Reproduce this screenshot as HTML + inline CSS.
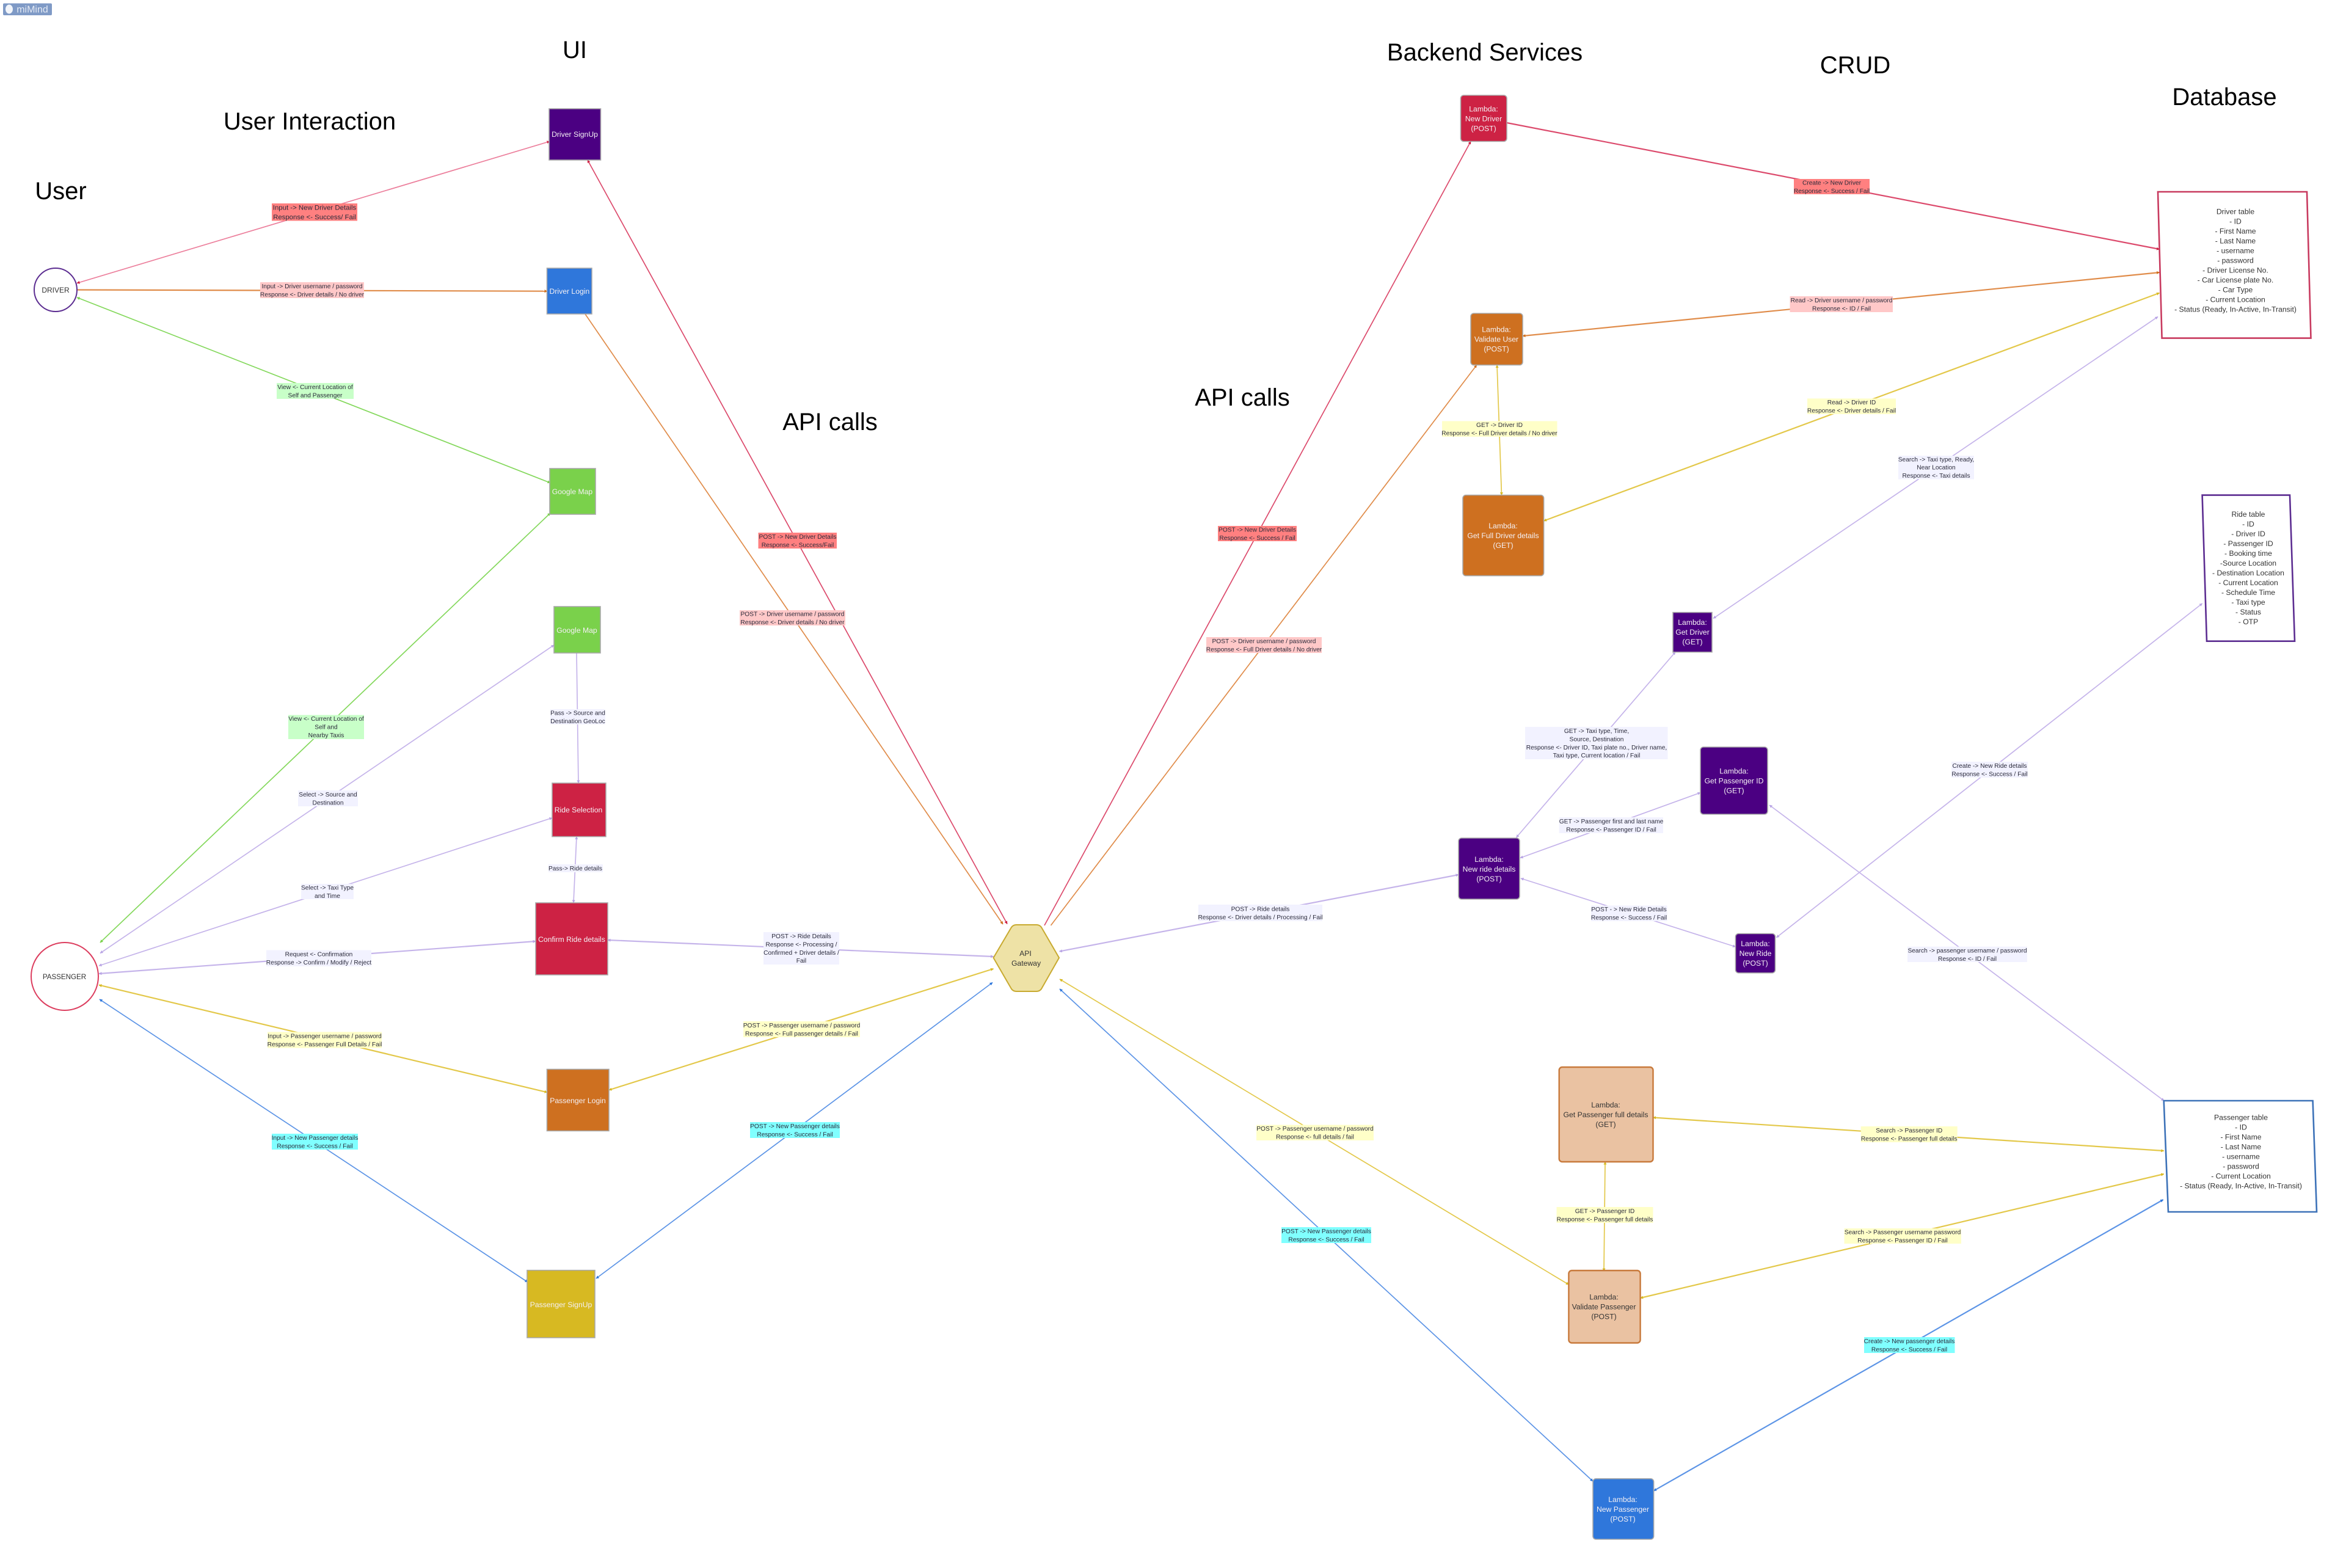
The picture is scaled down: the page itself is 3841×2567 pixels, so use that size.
<!DOCTYPE html>
<html lang="en">
<head>
<meta charset="utf-8">
<title>Taxi service architecture mind map</title>
<style>
html,body{margin:0;padding:0;background:#fff;}
svg{display:block;}
text{font-family:"Liberation Sans",sans-serif;text-anchor:middle;}
.title{font-size:40px;fill:#000;}
.lb{font-size:10.2px;fill:#2a2a3a;}
.n{font-size:12.2px;fill:#f4f0f4;}
.d{font-size:12.2px;fill:#333;}
.e{fill:none;stroke-width:1.7;}
.r{stroke:#dc4a6c;marker-start:url(#mr);marker-end:url(#mr);}
.rp{stroke:#ec7f9c;marker-start:url(#mr);marker-end:url(#mr);}
.o{stroke:#e08c4a;marker-start:url(#mo);marker-end:url(#mo);}
.y{stroke:#e3c84a;marker-start:url(#my);marker-end:url(#my);}
.p{stroke:#c5b4ea;marker-start:url(#mp);marker-end:url(#mp);}
.b{stroke:#5c94e6;marker-start:url(#mb);marker-end:url(#mb);}
.g{stroke:#84d85c;marker-start:url(#mg);marker-end:url(#mg);}
.e.ns{marker-start:none;}
.box{stroke:#a8a8a8;stroke-width:1.6;}
.lr{fill:#ff8080;}.lp{fill:#ffc8c8;}.lg{fill:#c8ffc8;}.lv{fill:#f2f2ff;}.ly{fill:#ffffc8;}.lc{fill:#80ffff;}
.tbl{fill:#fff;stroke-width:2.6;}
</style>
</head>
<body>
<svg xmlns="http://www.w3.org/2000/svg" width="3841" height="2567" viewBox="0 0 3841 2567">
<defs>
<marker id="mr" viewBox="0 0 10 10" refX="9" refY="5" markerWidth="5" markerHeight="5" markerUnits="userSpaceOnUse" orient="auto-start-reverse"><path d="M0 0L10 5L0 10z" fill="#cd2244"/></marker>
<marker id="mo" viewBox="0 0 10 10" refX="9" refY="5" markerWidth="5" markerHeight="5" markerUnits="userSpaceOnUse" orient="auto-start-reverse"><path d="M0 0L10 5L0 10z" fill="#ce7020"/></marker>
<marker id="my" viewBox="0 0 10 10" refX="9" refY="5" markerWidth="5" markerHeight="5" markerUnits="userSpaceOnUse" orient="auto-start-reverse"><path d="M0 0L10 5L0 10z" fill="#d7b922"/></marker>
<marker id="mp" viewBox="0 0 10 10" refX="9" refY="5" markerWidth="5" markerHeight="5" markerUnits="userSpaceOnUse" orient="auto-start-reverse"><path d="M0 0L10 5L0 10z" fill="#b8a4e4"/></marker>
<marker id="mb" viewBox="0 0 10 10" refX="9" refY="5" markerWidth="5" markerHeight="5" markerUnits="userSpaceOnUse" orient="auto-start-reverse"><path d="M0 0L10 5L0 10z" fill="#2f77db"/></marker>
<marker id="mg" viewBox="0 0 10 10" refX="9" refY="5" markerWidth="5" markerHeight="5" markerUnits="userSpaceOnUse" orient="auto-start-reverse"><path d="M0 0L10 5L0 10z" fill="#7ad14b"/></marker>
</defs>

<rect x="0" y="0" width="3841" height="2567" fill="#fff"/>

<g>
<rect x="5" y="5.5" width="80" height="19.5" rx="2" fill="#7f9ac6"/>
<ellipse cx="15" cy="15" rx="6" ry="7.5" fill="#f2f5fa"/>
<text x="53" y="20.5" style="font-size:16px;fill:#e3e9f4">miMind</text>
</g>

<text class="title" x="99.5" y="326">User</text>
<text class="title" x="507" y="212">User Interaction</text>
<text class="title" x="941" y="95">UI</text>
<text class="title" x="1359" y="704">API calls</text>
<text class="title" x="2034" y="664">API calls</text>
<text class="title" x="2431" y="99">Backend Services</text>
<text class="title" x="3037.5" y="120">CRUD</text>
<text class="title" x="3642" y="172">Database</text>

<!-- edges -->
<line class="e rp" x1="126" y1="463.5" x2="900" y2="231.5"/>
<line class="e o ns" style="stroke-width:2.2" x1="126" y1="474.5" x2="896" y2="476.7"/>
<line class="e g" x1="126" y1="487" x2="901" y2="790.5"/>
<line class="e g" x1="901" y1="840" x2="164" y2="1543"/>
<line class="e p" x1="907" y1="1056" x2="164" y2="1560.5"/>
<line class="e p ns" x1="944" y1="1069" x2="947" y2="1282"/>
<line class="e p" x1="904" y1="1339" x2="162" y2="1581"/>
<line class="e p" x1="944" y1="1369.6" x2="939" y2="1478"/>
<line class="e p" style="stroke-width:2.2" x1="877" y1="1541" x2="162" y2="1594"/>
<line class="e p" style="stroke-width:2.2" x1="995" y1="1539" x2="1626.5" y2="1566"/>
<line class="e y" style="stroke-width:2.2" x1="162" y1="1612.6" x2="896" y2="1788.3"/>
<line class="e b" x1="163" y1="1636" x2="864" y2="2099"/>
<line class="e y" style="stroke-width:2.2" x1="997" y1="1784.5" x2="1626.5" y2="1586"/>
<line class="e b" x1="976" y1="2093" x2="1625" y2="1608.5"/>
<line class="e r" x1="962" y1="262" x2="1649" y2="1512.5"/>
<line class="e o ns" x1="958" y1="514" x2="1642" y2="1513"/>
<line class="e r ns" x1="1710" y1="1515" x2="2408" y2="231.5"/>
<line class="e o ns" x1="1720.5" y1="1515" x2="2417.7" y2="597.6"/>
<line class="e p" style="stroke-width:2.2" x1="1734.5" y1="1557.6" x2="2388" y2="1432"/>
<line class="e y" x1="1735" y1="1603" x2="2568.4" y2="2103"/>
<line class="e b" x1="1735" y1="1619" x2="2608" y2="2425"/>
<line class="e r ns" style="stroke-width:2.2" x1="2467" y1="201" x2="3535.5" y2="408"/>
<line class="e o" style="stroke-width:2.2" x1="2493" y1="550" x2="3535.5" y2="446"/>
<line class="e y" style="stroke-width:2.2" x1="2527.6" y1="852.7" x2="3535.5" y2="479.6"/>
<line class="e y" x1="2451" y1="597.6" x2="2458.5" y2="810.6"/>
<line class="e p" x1="2805" y1="1012.4" x2="3533" y2="518.5"/>
<line class="e p" x1="2482.6" y1="1371" x2="2743" y2="1067.5"/>
<line class="e p" x1="2489" y1="1404.5" x2="2784" y2="1297.7"/>
<line class="e p" x1="2490" y1="1438" x2="2841.5" y2="1550"/>
<line class="e p" x1="2908.5" y1="1534.8" x2="3605.6" y2="988"/>
<line class="e p" x1="2897" y1="1318" x2="3543" y2="1802"/>
<line class="e y" style="stroke-width:2.2" x1="2706.5" y1="1829.5" x2="3542.7" y2="1884"/>
<line class="e y" x1="2628" y1="1902" x2="2626" y2="2081"/>
<line class="e y" style="stroke-width:2.2" x1="2685.6" y1="2125" x2="3542.7" y2="1922"/>
<line class="e b" style="stroke-width:2.2" x1="2707.6" y1="2440.6" x2="3541.7" y2="1964"/>

<!-- edge labels -->
<g><rect class="lr" x="445" y="333" width="140" height="28.5"/><text class="lb" style="font-size:11.4px" x="515" y="343.5">Input -&gt; New Driver Details<tspan x="515" dy="15.4">Response &lt;- Success/ Fail</tspan></text></g>
<g><rect class="lp" x="426" y="462" width="170" height="26"/><text class="lb" x="511" y="471.9">Input -&gt; Driver username / password<tspan x="511" dy="13.4">Response &lt;- Driver details / No driver</tspan></text></g>
<g><rect class="lg" x="453" y="627" width="126" height="26"/><text class="lb" x="516" y="636.9">View &lt;- Current Location of<tspan x="516" dy="13.4">Self and Passenger</tspan></text></g>
<g><rect class="lg" x="472" y="1170.5" width="124" height="39.5"/><text class="lb" x="534" y="1180.2">View &lt;- Current Location of<tspan x="534" dy="13.4">Self and</tspan><tspan x="534" dy="13.4">Nearby Taxis</tspan></text></g>
<g><rect class="lv" x="488" y="1294" width="98" height="26"/><text class="lb" x="537" y="1303.9">Select -&gt; Source and<tspan x="537" dy="13.4">Destination</tspan></text></g>
<g><rect class="lv" x="901" y="1161" width="90" height="25"/><text class="lb" x="946" y="1170.4">Pass -&gt; Source and<tspan x="946" dy="13.4">Destination GeoLoc</tspan></text></g>
<g><rect class="lv" x="493" y="1447" width="86" height="25"/><text class="lb" x="536" y="1456.4">Select -&gt; Taxi Type<tspan x="536" dy="13.4">and Time</tspan></text></g>
<g><rect class="lv" x="898" y="1415" width="89" height="13"/><text class="lb" x="942" y="1425">Pass-&gt; Ride details</text></g>
<g><rect class="lv" x="436" y="1555.5" width="172" height="26.5"/><text class="lb" x="522" y="1565.6">Request &lt;- Confirmation<tspan x="522" dy="13.4">Response -&gt; Confirm / Modify / Reject</tspan></text></g>
<g><rect class="ly" x="438" y="1689.4" width="187" height="26.3"/><text class="lb" x="531.5" y="1699.4">Input -&gt; Passenger username / password<tspan x="531.5" dy="13.4">Response &lt;- Passenger Full Details / Fail</tspan></text></g>
<g><rect class="lc" x="445" y="1856" width="141" height="26"/><text class="lb" x="515.5" y="1865.9">Input -&gt; New Passenger details<tspan x="515.5" dy="13.4">Response &lt;- Success / Fail</tspan></text></g>
<g><rect class="lr" x="1241.5" y="872" width="128.5" height="26"/><text class="lb" x="1306" y="881.9">POST -&gt; New Driver Details<tspan x="1306" dy="13.4">Response &lt;- Success/Fail</tspan></text></g>
<g><rect class="lp" x="1211" y="999" width="173" height="25"/><text class="lb" x="1297.5" y="1008.4">POST -&gt; Driver username / password<tspan x="1297.5" dy="13.4">Response &lt;- Driver details / No driver</tspan></text></g>
<g><rect class="lv" x="1250" y="1526" width="124" height="53"/><text class="lb" x="1312" y="1536">POST -&gt; Ride Details<tspan x="1312" dy="13.4">Response &lt;- Processing /</tspan><tspan x="1312" dy="13.4">Confirmed + Driver details /</tspan><tspan x="1312" dy="13.4">Fail</tspan></text></g>
<g><rect class="ly" x="1217" y="1672" width="191" height="26"/><text class="lb" x="1312.5" y="1681.9">POST -&gt; Passenger username / password<tspan x="1312.5" dy="13.4">Response &lt;- Full passenger details / Fail</tspan></text></g>
<g><rect class="lc" x="1228" y="1837" width="147" height="26"/><text class="lb" x="1301.5" y="1846.9">POST -&gt; New Passenger details<tspan x="1301.5" dy="13.4">Response &lt;- Success / Fail</tspan></text></g>
<g><rect class="lr" x="1994" y="861" width="129" height="25"/><text class="lb" x="2058.5" y="870.4">POST -&gt; New Driver Details<tspan x="2058.5" dy="13.4">Response &lt;- Success / Fail</tspan></text></g>
<g><rect class="lp" x="1975" y="1043" width="189" height="26"/><text class="lb" x="2069.5" y="1052.9">POST -&gt; Driver username / password<tspan x="2069.5" dy="13.4">Response &lt;- Full Driver details / No driver</tspan></text></g>
<g><rect class="lv" x="1962" y="1481" width="203" height="27"/><text class="lb" x="2063.5" y="1491.4">POST -&gt; Ride details<tspan x="2063.5" dy="13.4">Response &lt;- Driver details / Processing / Fail</tspan></text></g>
<g><rect class="ly" x="2057" y="1841.5" width="192" height="25.5"/><text class="lb" x="2153" y="1851">POST -&gt; Passenger username / password<tspan x="2153" dy="13.4">Response &lt;- full details / fail</tspan></text></g>
<g><rect class="lc" x="2098" y="2009" width="147" height="26"/><text class="lb" x="2171.5" y="2019">POST -&gt; New Passenger details<tspan x="2171.5" dy="13.4">Response &lt;- Success / Fail</tspan></text></g>
<g><rect class="lr" x="2937" y="293" width="124" height="25"/><text class="lb" x="2999" y="302.4">Create -&gt; New Driver<tspan x="2999" dy="13.4">Response &lt;- Success / Fail</tspan></text></g>
<g><rect class="lp" x="2930.5" y="485" width="168.5" height="26"/><text class="lb" x="3015" y="495">Read -&gt; Driver username / password<tspan x="3015" dy="13.4">Response &lt;- ID / Fail</tspan></text></g>
<g><rect class="ly" x="2959" y="652.4" width="145" height="25.6"/><text class="lb" x="3031.5" y="662">Read -&gt; Driver ID<tspan x="3031.5" dy="13.4">Response &lt;- Driver details / Fail</tspan></text></g>
<g><rect class="ly" x="2361" y="689.4" width="188.5" height="25.6"/><text class="lb" x="2455" y="699">GET -&gt; Driver ID<tspan x="2455" dy="13.4">Response &lt;- Full Driver details / No driver</tspan></text></g>
<g><rect class="lv" x="3108" y="746" width="124" height="38.5"/><text class="lb" x="3170" y="755.3">Search -&gt; Taxi type, Ready,<tspan x="3170" dy="13.4">Near Location</tspan><tspan x="3170" dy="13.4">Response &lt;- Taxi details</tspan></text></g>
<g><rect class="lv" x="2497" y="1190" width="233.6" height="53"/><text class="lb" x="2614" y="1200">GET -&gt; Taxi type, Time,<tspan x="2614" dy="13.4">Source, Destination</tspan><tspan x="2614" dy="13.4">Response &lt;- Driver ID, Taxi plate no., Driver name,</tspan><tspan x="2614" dy="13.4">Taxi type, Current location / Fail</tspan></text></g>
<g><rect class="lv" x="2552.7" y="1338" width="170.3" height="26"/><text class="lb" x="2638" y="1348">GET -&gt; Passenger first and last name<tspan x="2638" dy="13.4">Response &lt;- Passenger ID / Fail</tspan></text></g>
<g><rect class="lv" x="2605" y="1482.5" width="124.6" height="25.5"/><text class="lb" x="2667" y="1492">POST - &gt; New Ride Details<tspan x="2667" dy="13.4">Response &lt;- Success / Fail</tspan></text></g>
<g><rect class="lv" x="3195" y="1247" width="125" height="26"/><text class="lb" x="3257.5" y="1257">Create -&gt; New Ride details<tspan x="3257.5" dy="13.4">Response &lt;- Success / Fail</tspan></text></g>
<g><rect class="lv" x="3123" y="1549.7" width="196" height="25.3"/><text class="lb" x="3221" y="1559.4">Search -&gt; passenger username / password<tspan x="3221" dy="13.4">Response &lt;- ID / Fail</tspan></text></g>
<g><rect class="ly" x="3046.7" y="1844" width="158" height="26"/><text class="lb" x="3125.7" y="1854">Search -&gt; Passenger ID<tspan x="3125.7" dy="13.4">Response &lt;- Passenger full details</tspan></text></g>
<g><rect class="ly" x="2548.5" y="1976" width="158" height="26"/><text class="lb" x="2627.5" y="1986">GET -&gt; Passenger ID<tspan x="2627.5" dy="13.4">Response &lt;- Passenger full details</tspan></text></g>
<g><rect class="ly" x="3019.5" y="2011" width="191.5" height="25"/><text class="lb" x="3115" y="2020.4">Search -&gt; Passenger username password<tspan x="3115" dy="13.4">Response &lt;- Passenger ID / Fail</tspan></text></g>
<g><rect class="lc" x="3052" y="2189" width="148.5" height="26"/><text class="lb" x="3126" y="2199">Create -&gt; New passenger details<tspan x="3126" dy="13.4">Response &lt;- Success / Fail</tspan></text></g>

<!-- user nodes -->
<g><ellipse cx="91" cy="474.5" rx="35" ry="35.5" fill="#fff" stroke="#5c2d91" stroke-width="2"/><text style="font-size:12px;fill:#333" x="91" y="479">DRIVER</text></g>
<g><ellipse cx="106" cy="1598.5" rx="55" ry="55.5" fill="#fff" stroke="#dc3d5e" stroke-width="2"/><text style="font-size:11.6px;fill:#333" x="105.5" y="1603">PASSENGER</text></g>

<!-- ui nodes -->
<g><rect class="box" x="899" y="178" width="84.5" height="84" fill="#4b0082"/><text class="n" x="941" y="224">Driver SignUp</text></g>
<g><rect class="box" x="895.5" y="439" width="73.5" height="75" fill="#2f77db"/><text class="n" x="932.4" y="481">Driver Login</text></g>
<g><rect class="box" x="900" y="767" width="75" height="75" fill="#7ad14b"/><text class="n" x="937" y="809">Google Map</text></g>
<g><rect class="box" x="907" y="993" width="76" height="76" fill="#7ad14b"/><text class="n" x="944.5" y="1036">Google Map</text></g>
<g><rect class="box" x="904" y="1282" width="88" height="87.6" fill="#cd2244"/><text class="n" x="947" y="1330">Ride Selection</text></g>
<g><rect class="box" x="877" y="1478" width="118" height="118" fill="#cd2244"/><text class="n" x="936" y="1542">Confirm Ride details</text></g>
<g><rect class="box" x="895.5" y="1750.5" width="101.5" height="100.9" fill="#ce7020"/><text class="n" x="946" y="1806">Passenger Login</text></g>
<g><rect class="box" x="863" y="2079.6" width="111" height="110.4" fill="#d7b922"/><text class="n" x="918.5" y="2140">Passenger SignUp</text></g>

<!-- api gateway -->
<g><path d="M1626.5 1568L1656 1518Q1659 1514 1664 1514L1697 1514Q1702 1514 1705 1518L1734 1568L1705 1619Q1702 1623 1697 1623L1664 1623Q1659 1623 1656 1619Z" fill="#eee2a6" stroke="#c8aa30" stroke-width="2"/><text class="d" x="1679" y="1565">API<tspan x="1680" dy="16">Gateway</tspan></text></g>

<!-- lambda nodes -->
<g><rect class="box" x="2391.5" y="156" width="75.5" height="75.5" rx="5" fill="#cd2244"/><text class="n" x="2429" y="182.5">Lambda:<tspan x="2429" dy="16">New Driver</tspan><tspan x="2429" dy="16">(POST)</tspan></text></g>
<g><rect class="box" x="2408" y="513" width="85" height="84.6" rx="5" fill="#ce7020"/><text class="n" x="2450" y="543.5">Lambda:<tspan x="2450" dy="16">Validate User</tspan><tspan x="2450" dy="16">(POST)</tspan></text></g>
<g><rect class="box" x="2395" y="810.6" width="132.6" height="132" rx="5" fill="#ce7020"/><text class="n" x="2461" y="865">Lambda:<tspan x="2461" dy="16">Get Full Driver details</tspan><tspan x="2461" dy="16">(GET)</tspan></text></g>
<g><rect class="box" x="2739" y="1002.6" width="64" height="65" fill="#4b0082"/><text class="n" x="2771" y="1023">Lambda:<tspan x="2771" dy="16">Get Driver</tspan><tspan x="2771" dy="16">(GET)</tspan></text></g>
<g><rect class="box" x="2784" y="1223" width="110" height="110" rx="5" fill="#4b0082"/><text class="n" x="2839" y="1266.7">Lambda:<tspan x="2839" dy="16">Get Passenger ID</tspan><tspan x="2839" dy="16">(GET)</tspan></text></g>
<g><rect class="box" x="2388" y="1372" width="100" height="100" rx="5" fill="#4b0082"/><text class="n" x="2438" y="1411">Lambda:<tspan x="2438" dy="16">New ride details</tspan><tspan x="2438" dy="16">(POST)</tspan></text></g>
<g><rect class="box" x="2841.5" y="1528.5" width="65" height="64.3" rx="5" fill="#4b0082"/><text class="n" x="2874" y="1549">Lambda:<tspan x="2874" dy="16">New Ride</tspan><tspan x="2874" dy="16">(POST)</tspan></text></g>
<g><rect x="2552.7" y="1747" width="153.8" height="155" rx="5" fill="#eac2a2" stroke="#c87a3c" stroke-width="2.4"/><text class="d" x="2629" y="1813">Lambda:<tspan x="2629" dy="16">Get Passenger full details</tspan><tspan x="2629" dy="16">(GET)</tspan></text></g>
<g><rect x="2568.4" y="2080" width="117.2" height="118.5" rx="5" fill="#eac2a2" stroke="#c87a3c" stroke-width="2.4"/><text class="d" x="2626" y="2127.7">Lambda:<tspan x="2626" dy="16">Validate Passenger</tspan><tspan x="2626" dy="16">(POST)</tspan></text></g>
<g><rect class="box" x="2608" y="2420.8" width="99.6" height="99.2" rx="5" fill="#2f77db"/><text class="n" x="2657" y="2459">Lambda:<tspan x="2657" dy="16">New Passenger</tspan><tspan x="2657" dy="16">(POST)</tspan></text></g>

<!-- database tables -->
<g><polygon class="tbl" stroke="#c83a5f" points="3533,314 3777,314 3783.5,553.6 3539.6,553.6"/><text class="d" x="3660" y="350.3">Driver table<tspan x="3660" dy="16">- ID</tspan><tspan x="3660" dy="16">- First Name</tspan><tspan x="3660" dy="16">- Last Name</tspan><tspan x="3660" dy="16">- username</tspan><tspan x="3660" dy="16">- password</tspan><tspan x="3660" dy="16">- Driver License No.</tspan><tspan x="3660" dy="16">- Car License plate No.</tspan><tspan x="3660" dy="16">- Car Type</tspan><tspan x="3660" dy="16">- Current Location</tspan><tspan x="3660" dy="16">- Status (Ready, In-Active, In-Transit)</tspan></text></g>
<g><polygon class="tbl" stroke="#5c2d91" points="3605.6,810.6 3749,810.6 3757,1049.7 3613,1049.7"/><text class="d" x="3681" y="846">Ride table<tspan x="3681" dy="16">- ID</tspan><tspan x="3681" dy="16">- Driver ID</tspan><tspan x="3681" dy="16">- Passenger ID</tspan><tspan x="3681" dy="16">- Booking time</tspan><tspan x="3681" dy="16">-Source Location</tspan><tspan x="3681" dy="16">- Destination Location</tspan><tspan x="3681" dy="16">- Current Location</tspan><tspan x="3681" dy="16">- Schedule Time</tspan><tspan x="3681" dy="16">- Taxi type</tspan><tspan x="3681" dy="16">- Status</tspan><tspan x="3681" dy="16">- OTP</tspan></text></g>
<g><polygon class="tbl" stroke="#3d72b8" points="3542.7,1802 3786.6,1802 3793,1984 3550,1984"/><text class="d" x="3669" y="1833.5">Passenger table<tspan x="3669" dy="16">- ID</tspan><tspan x="3669" dy="16">- First Name</tspan><tspan x="3669" dy="16">- Last Name</tspan><tspan x="3669" dy="16">- username</tspan><tspan x="3669" dy="16">- password</tspan><tspan x="3669" dy="16">- Current Location</tspan><tspan x="3669" dy="16">- Status (Ready, In-Active, In-Transit)</tspan></text></g>
</svg>
</body>
</html>
